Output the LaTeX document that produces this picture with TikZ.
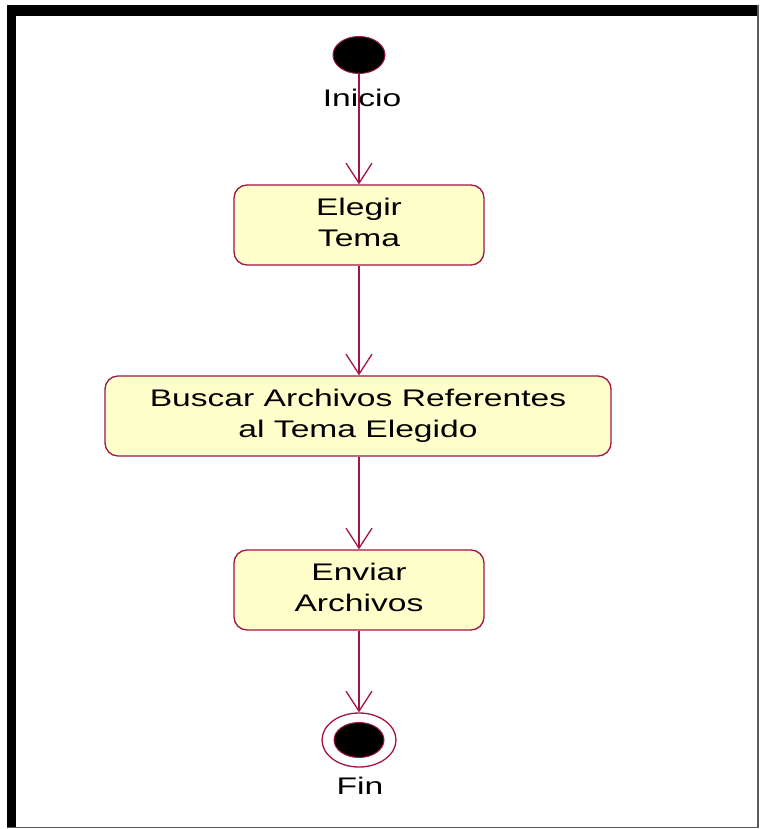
\documentclass[tikz,border=0pt]{standalone}
\usepackage{fontspec}
\setmainfont{Liberation Sans}[FakeStretch=1.4]
\usetikzlibrary{shapes.geometric,arrows.meta}
\definecolor{flowline}{RGB}{160,20,70}
\definecolor{actfill}{RGB}{255,255,204}
\definecolor{edge}{RGB}{90,90,90}
% two-line activity caption, set a little above the box centre
\newcommand\acttext[1]{\raisebox{9pt}{\begin{tabular}{@{}c@{}}#1\end{tabular}}}
\begin{document}
\begin{tikzpicture}[x=1pt,y=-1pt,
  activity/.style={draw=flowline, line width=1.3pt, fill=actfill,
    rounded corners=13pt, minimum width=250pt, minimum height=80pt,
    inner sep=0pt, font=\fontsize{24}{31}\selectfont},
  flow/.style={draw=flowline, line width=1.3pt,
    -{Straight Barb[length=20pt,width=26pt,line width=1.3pt]}},
  dot/.style={ellipse, fill=black, draw=flowline, line width=1pt, inner sep=0pt},
  caption/.style={font=\fontsize{24}{31}\selectfont, inner sep=0pt}]
  % page and frame
  \useasboundingbox (0,0) rectangle (760,829);
  \fill[white] (0,0) rectangle (760,829);
  \fill[black] (7,5) rectangle (758,16);
  \fill[black] (7,5) rectangle (16,828);
  \draw[edge, line width=1.2pt] (758,5) -- (758,827.5) -- (7,827.5);

  % states
  \node[dot, minimum width=52pt, minimum height=37pt] (start) at (359,55) {};
  \node[activity] (elegir) at (359,225) {\acttext{Elegir\\Tema}};
  \node[activity, minimum width=506pt] (buscar) at (358,416) {\acttext{Buscar Archivos Referentes\\al Tema Elegido}};
  \node[activity] (enviar) at (359,590) {\acttext{Enviar\\Archivos}};
  \node[ellipse, draw=flowline, line width=1.3pt, minimum width=74pt, minimum height=54pt, inner sep=0pt] (fin) at (359,740) {};
  \node[dot, minimum width=50pt, minimum height=35pt] (findot) at (fin.center) {};

  % transitions
  \draw[flow] (start) -- (elegir);
  \draw[flow] (elegir) -- (elegir |- buscar.north);
  \draw[flow] (elegir |- buscar.south) -- (enviar);
  \draw[flow] (enviar) -- (fin);

  % labels
  \node[caption] (inicioLabel) at (362,98) {Inicio};
  \node[caption] (finLabel) at (360,786) {Fin};
\end{tikzpicture}
\end{document}
